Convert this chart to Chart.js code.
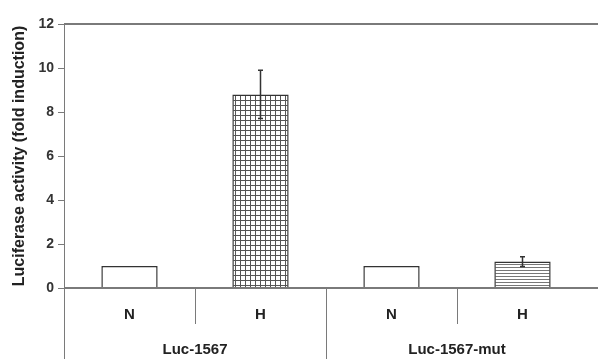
<!DOCTYPE html>
<html>
<head>
<meta charset="utf-8">
<script src="https://cdn.jsdelivr.net/npm/chart.js@4"></script>
<style>
html, body { margin: 0; padding: 0; background: #fff; }
#wrap { width: 598px; height: 359px; }
</style>
</head>
<body>
<div id="wrap"><canvas id="grafica"></canvas></div>
<script>
const conditions = ["N", "H", "N", "H"];
const constructs = ["Luc-1567", "Luc-1567-mut"];
const activity = [1.0, 8.8, 1.0, 1.2];
const errors = [0, 1.1, 0, 0.22];
const yTicks = [0, 2, 4, 6, 8, 10, 12];

const AXIS = "#7a7a7a";
const FONT = "'Liberation Sans', Arial, sans-serif";

function makePattern(kind){
const c = document.createElement("canvas");
const n = kind === "grid" ? 5 : 3;
c.width = n; c.height = n;
const g = c.getContext("2d");
g.fillStyle = "#ffffff";
g.fillRect(0, 0, n, n);
g.fillStyle = kind === "grid" ? "#555" : "#777";
g.fillRect(0, 0, n, 1);
if (kind === "grid") g.fillRect(0, 0, 1, n);
return g.createPattern(c, "repeat");
}

const fills = ["#ffffff", makePattern("grid"), "#ffffff", makePattern("lines")];

const extras = {
id: "extras",
afterDraw(chart){
const ctx = chart.ctx;
const a = chart.chartArea;
const x = chart.scales.x;
const y = chart.scales.y;
const W = chart.width, H = chart.height;
const base = y.getPixelForValue(0);
ctx.save();
ctx.strokeStyle = AXIS;
ctx.lineWidth = 2;
ctx.beginPath();
ctx.moveTo(a.left, a.top); ctx.lineTo(W, a.top);
ctx.moveTo(a.left, base); ctx.lineTo(W, base);
ctx.stroke();
ctx.lineWidth = 1;
ctx.beginPath();
ctx.moveTo(a.left + 0.5, a.top); ctx.lineTo(a.left + 0.5, H);
const step = x.getPixelForValue(1) - x.getPixelForValue(0);
for (let i = 1; i < conditions.length; i++){
const bx = Math.round(x.getPixelForValue(i) - step / 2) + 0.5;
ctx.moveTo(bx, base);
ctx.lineTo(bx, i === 2 ? H : base + 36);
}
ctx.stroke();
// error bars
ctx.strokeStyle = "#333";
ctx.lineWidth = 1.5;
activity.forEach((v, i) => {
if (!errors[i]) return;
const cx = x.getPixelForValue(i);
const t = y.getPixelForValue(v + errors[i]);
const b = y.getPixelForValue(v - errors[i]);
ctx.beginPath();
ctx.moveTo(cx, t); ctx.lineTo(cx, b);
ctx.moveTo(cx - 2.5, t); ctx.lineTo(cx + 2.5, t);
ctx.moveTo(cx - 2.5, b); ctx.lineTo(cx + 2.5, b);
ctx.stroke();
});
ctx.restore();
}
};

new Chart(document.getElementById("grafica"), {
type: "bar",
data: {
labels: conditions,
datasets: [{
data: activity,
backgroundColor: fills,
borderColor: "#333",
borderWidth: 1.5,
borderSkipped: "bottom",
barPercentage: 0.43,
categoryPercentage: 1
}]
},
options: {
responsive: true,
maintainAspectRatio: false,
animation: false,
layout: { padding: { top: 24, right: 10, left: 0, bottom: 0 } },
plugins: { legend: { display: false }, tooltip: { enabled: false } },
scales: {
y: {
min: 0, max: 12,
afterBuildTicks: s => { s.ticks = yTicks.map(v => ({ value: v })); },
afterFit: s => { s.width = 64; },
ticks: { color: "#333", font: { family: FONT, size: 14, weight: "bold" }, padding: 4 },
grid: { drawOnChartArea: false, color: AXIS, tickLength: 6 },
border: { color: AXIS, width: 1 },
title: {
display: true,
text: "Luciferase activity (fold induction)",
color: "#222",
font: { family: FONT, size: 16, weight: "bold" },
padding: { top: 10, bottom: 0 }
}
},
x: {
weight: 0,
afterFit: s => { s.height = 36; },
ticks: { color: "#222", font: { family: FONT, size: 15, weight: "bold" }, padding: 18, maxRotation: 0 },
grid: { display: false, drawTicks: false },
border: { display: false }
},
x2: {
type: "category",
position: "bottom",
weight: 1,
labels: constructs,
offset: true,
afterFit: s => { s.height = 35; },
ticks: { color: "#222", font: { family: FONT, size: 15, weight: "bold" }, padding: 17, maxRotation: 0 },
grid: { display: false, drawTicks: false },
border: { display: false }
}
}
},
plugins: [extras]
});
</script>
</body>
</html>
